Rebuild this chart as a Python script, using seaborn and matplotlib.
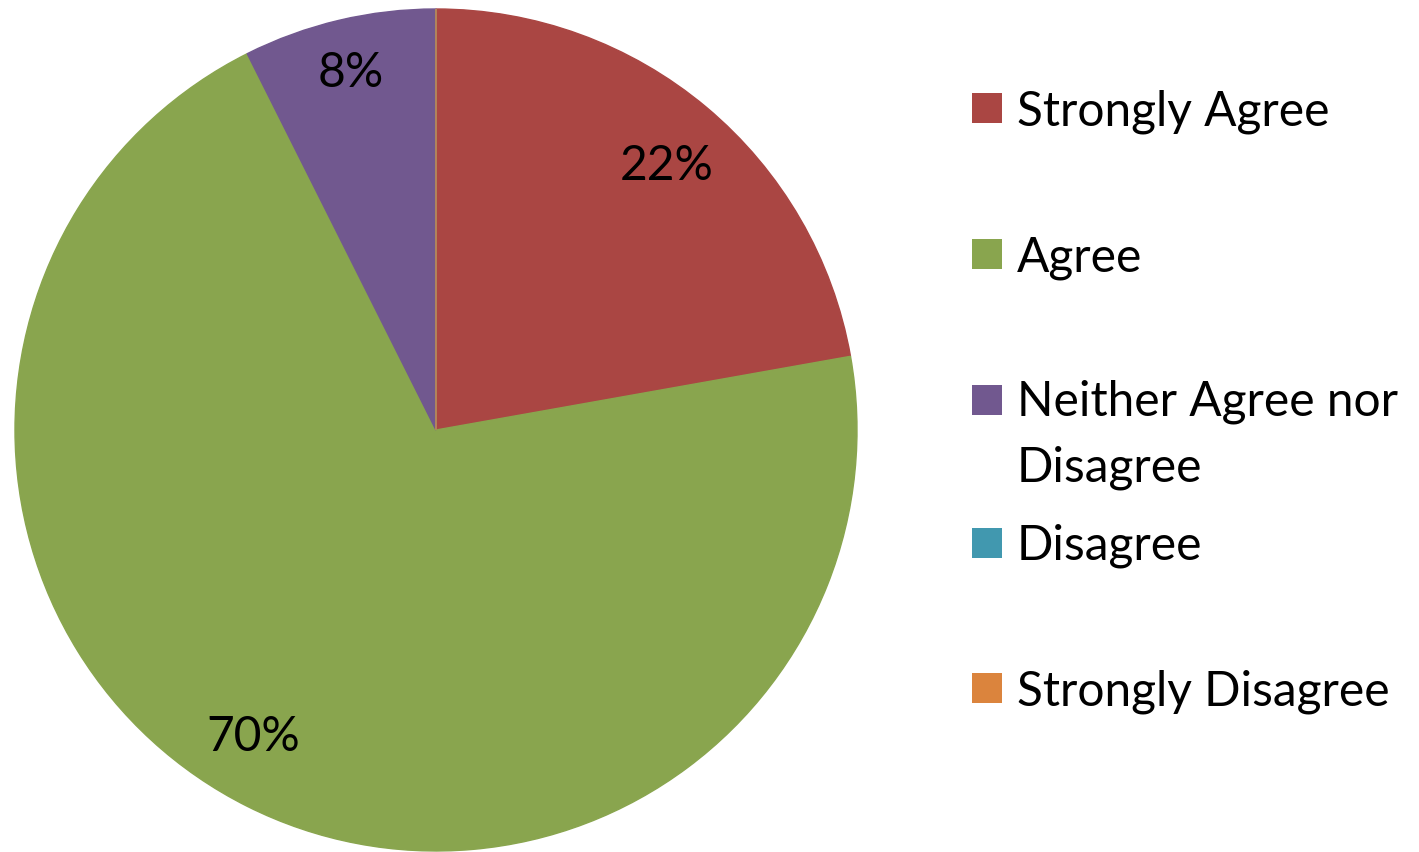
import matplotlib
matplotlib.use("Agg")
import matplotlib.pyplot as plt
from matplotlib.patches import Rectangle
import seaborn as sns
import numpy as np

# Survey responses (share of respondents, %)
categories = ["Strongly Agree", "Agree", "Neither Agree nor\nDisagree", "Disagree", "Strongly Disagree"]
shares = [22.2, 70.4, 7.4, 0.0, 0.0]
pct_labels = ["22%", "70%", "8%", "", ""]
colors = ["#AA4643", "#89A54E", "#71588F", "#4198AF", "#DB843D"]

sns.set_theme(style="white")
plt.rcParams['font.family'] = ['Lato', 'DejaVu Sans']

W, H = 1419, 852
FS = 34.5
fig = plt.figure(figsize=(W / 100, H / 100), dpi=100)

# pie centred at (436, 430) px, radius 421 px
cx, cy, r = 436, 430, 421
ax = fig.add_axes([(cx - r) / W, (H - cy - r) / H, 2 * r / W, 2 * r / H])

wedges, _ = ax.pie(shares, colors=colors, startangle=90, counterclock=False,
                   wedgeprops=dict(linewidth=1))
for w, c in zip(wedges, colors):
    w.set_edgecolor(c)
ax.set_xlim(-1, 1)
ax.set_ylim(-1, 1)
ax.set_aspect("equal")

# percentage labels inside wedges (Excel best-fit spots)
dist = [0.84, 0.84, 0.88, 0.8, 0.8]
ang_shift = [-0.7, -4.4, 0.0, 0.0, 0.0]
for w, lab, d, s in zip(wedges, pct_labels, dist, ang_shift):
    if not lab:
        continue
    ang = np.deg2rad((w.theta1 + w.theta2) / 2 + s)
    ax.text(d * np.cos(ang), d * np.sin(ang), lab, ha="center", va="center_baseline",
            fontsize=FS, color="black")

# legend drawn at right
ys = [108, 254, 400, 543, 688]
for cat, col, y in zip(categories, colors, ys):
    fig.patches.append(Rectangle((972 / W, (H - y - 15) / H), 30 / W, 30 / H,
                                 transform=fig.transFigure, facecolor=col,
                                 edgecolor="none"))
    nl = cat.count("\n")
    fig.text(1017 / W, (H - y - 17 - nl * 65) / H, cat, ha="left", va="baseline",
             fontsize=FS, color="black", linespacing=1.6)

fig.savefig("out.png", dpi=100)
